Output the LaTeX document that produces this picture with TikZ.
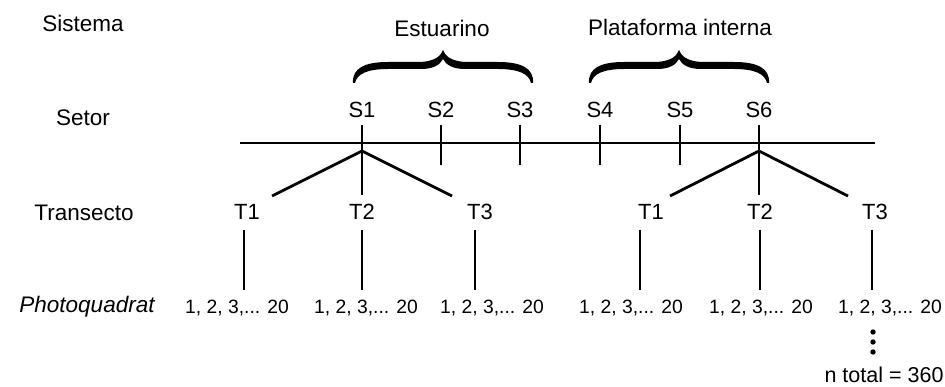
\documentclass[tikz,border=0pt]{standalone}
\usepackage{fontspec}
\setmainfont{Liberation Sans}
\begin{document}
\begin{tikzpicture}[x=1pt,y=-1pt,
  lbl/.style={font=\fontsize{22.5}{24}\selectfont, inner sep=0pt},
  sl/.style={font=\fontsize{22}{24}\selectfont, inner sep=0pt},
  lst/.style={font=\fontsize{19.3}{21}\selectfont, inner sep=0pt},
  ln/.style={line width=2.8pt},
  pics/cbrace/.style={code={
    \fill (-90,33) .. controls (-91,18) and (-78,12) .. (-55,12) -- (-22,12)
      .. controls (-8,11) and (-2,6) .. (0,0)
      .. controls (2,6) and (8,11) .. (22,12) -- (55,12)
      .. controls (78,12) and (91,18) .. (90,33)
      -- (88,33) .. controls (86,24) and (76,19) .. (55,19) -- (22,19)
      .. controls (10,19) and (3,15) .. (0,9)
      .. controls (-3,15) and (-10,19) .. (-22,19) -- (-55,19)
      .. controls (-76,19) and (-86,24) .. (-88,33) -- cycle;
  }}]
\useasboundingbox (0,0) rectangle (945,387);
% row labels
\node[lbl] (sis) at (83,23) {Sistema};
\node[lbl] (set) at (83,118) {Setor};
\node[lbl] (tra) at (84,213) {Transecto};
\node[lbl] (pho) at (87,307) {\itshape Photoquadrat};
% systems
\node[lbl] (est) at (442,28) {Estuarino};
\node[lbl] (pla) at (680,27) {Plataforma interna};
\pic at (443,50) {cbrace};
\pic at (679,50) {cbrace};
% sectors
\foreach \n/\x in {1/362,2/441,3/520,4/600,5/680,6/759}{
  \node[sl] (S\n) at (\x,110) {S\n};
  \coordinate (tt\n) at (\x,125);
  \coordinate (tb\n) at (\x,165);
}
\coordinate (hl) at (240,143);
\coordinate (hr) at (875,143);
\draw[ln] (hl) -- (hr);
\foreach \n in {2,3,4,5}{ \draw[ln] (tt\n) -- (tb\n); }
% fans
\coordinate (a1) at (362,151);
\coordinate (a6) at (759,151);
\coordinate (b1) at (362,195);
\coordinate (b6) at (759,195);
\coordinate (fl1) at (272,196);
\coordinate (fr1) at (452,196);
\coordinate (fl6) at (670,196);
\coordinate (fr6) at (848,196);
\draw[ln] (tt1) -- (b1);
\draw[ln] (tt6) -- (b6);
\draw[ln] (fl1) -- (a1) -- (fr1);
\draw[ln] (fl6) -- (a6) -- (fr6);
% transects
\foreach \i/\t/\x/\lx/\px in {1/T1/247/244/237, 2/T2/362/362/366, 3/T3/480/475/492,
                               4/T1/651/640/631, 5/T2/760/760/761, 6/T3/875/872/890}{
  \node[sl] (T\i) at (\x,212) {\t};
  \node[lst] (P\i) at (\px,308) {1, 2, 3,... 20};
  \coordinate (vt\i) at (\lx,230);
  \coordinate (vb\i) at (\lx,290);
  \draw[ln] (vt\i) -- (vb\i);
}
% dots and total
\foreach \y in {332,342,352}{ \fill (873,\y) circle (2.7); }
\node[lbl, font=\fontsize{21.5}{23}\selectfont] (tot) at (884,375) {n total = 360};
\end{tikzpicture}
\end{document}
